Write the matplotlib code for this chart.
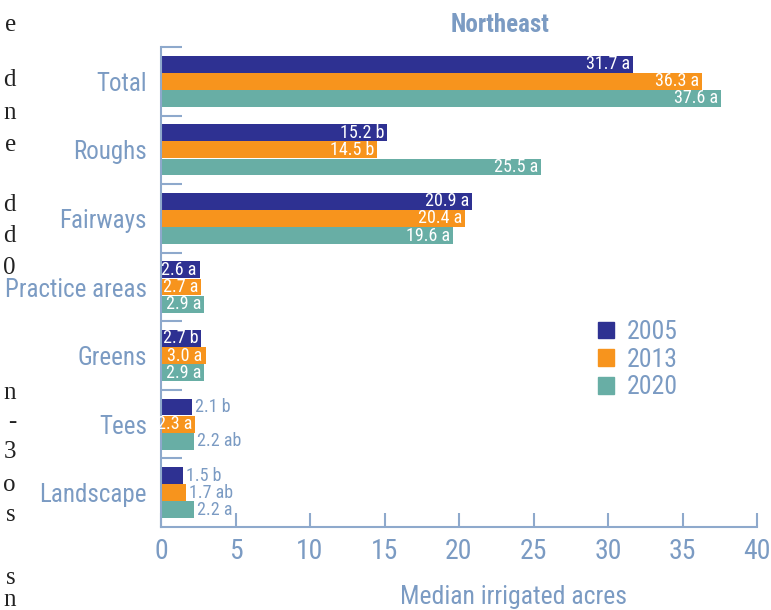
import numpy as np
import matplotlib.pyplot as plt
from matplotlib.patches import Patch
from matplotlib.transforms import ScaledTranslation

categories = ["Total", "Roughs", "Fairways", "Practice areas", "Greens", "Tees", "Landscape"]
years = ["2005", "2013", "2020"]
v2005 = [31.7, 15.2, 20.9, 2.6, 2.7, 2.1, 1.5]
v2013 = [36.3, 14.5, 20.4, 2.7, 3.0, 2.3, 1.7]
v2020 = [37.6, 25.5, 19.6, 2.9, 2.9, 2.2, 2.2]
l2005 = ["a", "b", "a", "a", "b", "b", "b"]
l2013 = ["a", "b", "a", "a", "a", "a", "ab"]
l2020 = ["a", "a", "a", "a", "a", "ab", "a"]
# labels drawn outside the bar (too short)
outside = {
    "2005": [False, False, False, False, False, True, True],
    "2013": [False, False, False, False, False, False, True],
    "2020": [False, False, False, False, False, True, True],
}

colors = ["#2e3192", "#f7941d", "#68aea5"]
txt = "#7b9bc3"
axc = "#8ea9cc"
fam = ["Roboto Condensed", "DejaVu Sans"]
plt.rcParams['font.family'] = fam

fig = plt.figure(figsize=(7.71, 6.10), dpi=100)
ax = fig.add_axes([161 / 771, 83 / 610, 596 / 771, 480 / 610])

y = np.arange(len(categories))
h = 0.245
offs = [-0.25, 0.0, 0.25]
series = [v2005, v2013, v2020]
letters = [l2005, l2013, l2020]

for k in range(3):
    ax.barh(y + offs[k], series[k], height=h, color=colors[k], label=years[k])
    for i, v in enumerate(series[k]):
        s = f"{v:.1f} {letters[k][i]}"
        if outside[years[k]][i]:
            ax.text(v + 0.2, y[i] + offs[k], s, ha='left', va='center',
                    fontsize=13, color=txt)
        else:
            ax.text(v - 0.2, y[i] + offs[k], s, ha='right', va='center',
                    fontsize=13, color='white')

ax.set_xlim(0, 40)
ax.set_ylim(6.5, -0.5)
ax.set_yticks(y)
ax.set_yticklabels(categories, fontsize=18, color=txt, va='center_baseline')
shift = ScaledTranslation(0, 3 / 100, fig.dpi_scale_trans)
for lab in ax.get_yticklabels():
    lab.set_transform(lab.get_transform() + shift)
ax.set_yticks(np.arange(-0.5, 6.0, 1.0), minor=True)
ax.tick_params(axis='y', which='major', length=0, pad=10)
ax.tick_params(axis='y', which='minor', direction='in', length=15, width=1.5, color=axc)
ax.set_xticks(np.arange(0, 41, 5))
ax.tick_params(axis='x', direction='in', length=10, width=1.5, color=axc,
               labelsize=20, labelcolor=txt, pad=8)

for side in ['top', 'right']:
    ax.spines[side].set_visible(False)
for side in ['left', 'bottom']:
    ax.spines[side].set_color(axc)
    ax.spines[side].set_linewidth(1.5)

fig.text(500 / 771, 1 - 25 / 610, "Northeast", ha='center', va='center',
         fontsize=18, fontweight='bold', color=txt)
fig.text(513 / 771, 1 - 597 / 610, "Median irrigated acres", ha='center', va='center',
         fontsize=18.5, color=txt)

handles = [Patch(color=c) for c in colors]
leg = ax.legend(handles, years, loc='upper left', bbox_to_anchor=(0.695, 0.48),
                frameon=False, fontsize=18.5, handlelength=0.6, handleheight=0.6,
                handletextpad=0.5, labelspacing=0.15)
for t in leg.get_texts():
    t.set_color(txt)

# clipped fragments of the neighbouring page text
frags = [("e", 25), ("d", 80), ("n", 113), ("e", 145), ("d", 205), ("d", 236),
         ("0", 268), ("n", 393), ("-", 422), ("3", 452), ("o", 485), ("s", 515),
         ("s", 578), ("n", 600)]
for ch, py in frags:
    fig.text(16 / 771, 1 - py / 610, ch, ha='right', va='center', fontsize=18,
             family=["Liberation Serif", "DejaVu Serif"], color='#222222')

fig.savefig('out.png', dpi=100)
